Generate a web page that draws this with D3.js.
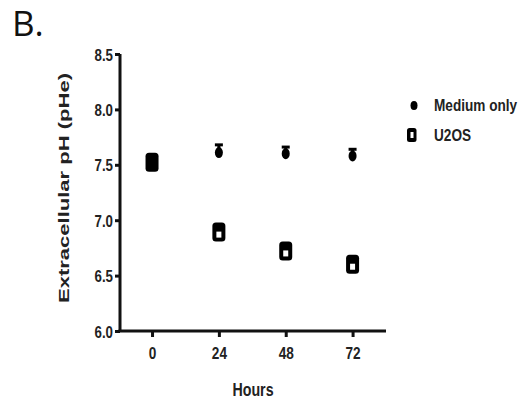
<!DOCTYPE html>
<html lang="en">
<head>
  <meta charset="UTF-8" />
  <title>Extracellular pH</title>
  <style>
    html, body { margin: 0; padding: 0; background: #fff; }
    svg { display: block; }
    .narrow { font-family: "Liberation Sans", Arial, sans-serif; font-weight: bold; fill: #222; }
  </style>
</head>
<body>
  <svg width="526" height="409"></svg>
  <script src="https://d3js.org/d3.v7.min.js"></script>
  <script>
    const hours = [0, 24, 48, 72];
    const yTicks = [6.0, 6.5, 7.0, 7.5, 8.0, 8.5];
    const mediumMean = [7.50, 7.61, 7.60, 7.58];
    const mediumSd = [0.02, 0.07, 0.06, 0.06];
    const u2osMean = [7.50, 6.87, 6.70, 6.58];
    const u2osSd = [0.03, 0.04, 0.04, 0.04];
    const seriesNames = ["Medium only", "U2OS"];

    const svg = d3.select("svg");

    const x = d3.scaleLinear().domain([-11.5, 84]).range([120, 386]);
    const y = d3.scaleLinear().domain([6.0, 8.5]).range([331, 54]);

    // squeeze bold text horizontally, like the condensed font of the original
    function squeeze(sel, k) {
      sel.each(function () {
        const w = this.getComputedTextLength();
        d3.select(this).attr("textLength", w * k).attr("lengthAdjust", "spacingAndGlyphs");
      });
    }

    // "B." panel label
    svg.append("text")
      .attr("x", 12).attr("y", 36)
      .attr("font-family", "Open Sans, sans-serif")
      .attr("font-size", 35)
      .attr("fill", "#111")
      .text("B.");

    // y axis
    const yAxis = svg.append("g")
      .attr("transform", `translate(${x.range()[0]},0)`)
      .call(d3.axisLeft(y).tickValues(yTicks).tickFormat(d3.format(".1f")).tickSize(5).tickPadding(2));
    yAxis.select(".domain").attr("stroke-width", 3).attr("d", `M0,${y(8.5)}V${y(6.0)}`);
    yAxis.selectAll(".tick line").attr("stroke-width", 3);
    yAxis.selectAll(".tick text").attr("class", "narrow").attr("font-size", 17).attr("dy", "0.36em")
      .call(squeeze, 0.78);

    // x axis
    const xAxis = svg.append("g")
      .attr("transform", `translate(0,${y.range()[0]})`)
      .call(d3.axisBottom(x).tickValues(hours).tickFormat(d3.format("d")).tickSize(6).tickPadding(10));
    xAxis.select(".domain").attr("stroke-width", 3).attr("d", `M${x.range()[0] - 1.5},0H${x.range()[1]}`);
    xAxis.selectAll(".tick line").attr("stroke-width", 3);
    xAxis.selectAll(".tick text").attr("class", "narrow").attr("font-size", 17)
      .call(squeeze, 0.8);

    svg.selectAll(".domain, .tick line").attr("stroke", "#111");

    // axis titles
    svg.append("text")
      .attr("class", "narrow")
      .attr("x", 253).attr("y", 396)
      .attr("text-anchor", "middle")
      .attr("font-size", 18)
      .text("Hours")
      .call(squeeze, 0.79);

    svg.append("text")
      .attr("transform", "translate(69,188) rotate(-90)")
      .attr("text-anchor", "middle")
      .attr("font-family", "Liberation Sans, Arial, sans-serif")
      .attr("font-weight", "bold")
      .attr("font-size", 15)
      .attr("fill", "#222")
      .attr("textLength", 230)
      .attr("lengthAdjust", "spacingAndGlyphs")
      .text("Extracellular pH (pHe)");

    // error bars (upper half only, lower half sits under the symbol)
    function errorBars(mean, sd, capW) {
      const g = svg.append("g").attr("stroke", "#000").attr("stroke-width", 3);
      hours.forEach((h, i) => {
        const cx = x(h);
        g.append("line").attr("x1", cx).attr("x2", cx)
          .attr("y1", y(mean[i])).attr("y2", y(mean[i] + sd[i]));
        g.append("line").attr("x1", cx - capW / 2).attr("x2", cx + capW / 2)
          .attr("y1", y(mean[i] + sd[i])).attr("y2", y(mean[i] + sd[i]));
      });
    }
    errorBars(u2osMean, u2osSd, 8);

    // U2OS squares (black frame with small white hole)
    const sq = svg.append("g").selectAll("g")
      .data(hours.map((h, i) => ({ h, v: u2osMean[i] })))
      .join("g")
      .attr("transform", d => `translate(${x(d.h)},${y(d.v)})`);
    sq.append("rect")
      .attr("x", -6.5).attr("y", -12).attr("width", 13).attr("height", 19)
      .attr("rx", 3.5).attr("fill", "#000");
    sq.append("rect")
      .attr("x", -2.5).attr("y", -3).attr("width", 5).attr("height", 6)
      .attr("fill", "#fff");

    errorBars(mediumMean, mediumSd, 8);

    // Medium only dots
    svg.append("g").selectAll("ellipse")
      .data(hours.map((h, i) => ({ h, v: mediumMean[i] })))
      .join("ellipse")
      .attr("cx", d => x(d.h))
      .attr("cy", d => y(d.v))
      .attr("rx", 4).attr("ry", 5.5)
      .attr("fill", "#000");

    // legend
    const legend = svg.append("g");
    legend.append("ellipse").attr("cx", 414).attr("cy", 105.5).attr("rx", 3.5).attr("ry", 4.5).attr("fill", "#000");
    legend.append("rect").attr("x", 407).attr("y", 128).attr("width", 9.5).attr("height", 14).attr("rx", 2.5)
      .attr("fill", "#000");
    legend.append("rect").attr("x", 410.5).attr("y", 132).attr("width", 3).attr("height", 6).attr("fill", "#fff");
    legend.selectAll("text.leg")
      .data(seriesNames)
      .join("text")
      .attr("class", "narrow")
      .attr("x", 434)
      .attr("y", (d, i) => 111 + i * 30)
      .attr("font-size", 17)
      .text(d => d)
      .call(squeeze, 0.8);
  </script>
</body>
</html>
